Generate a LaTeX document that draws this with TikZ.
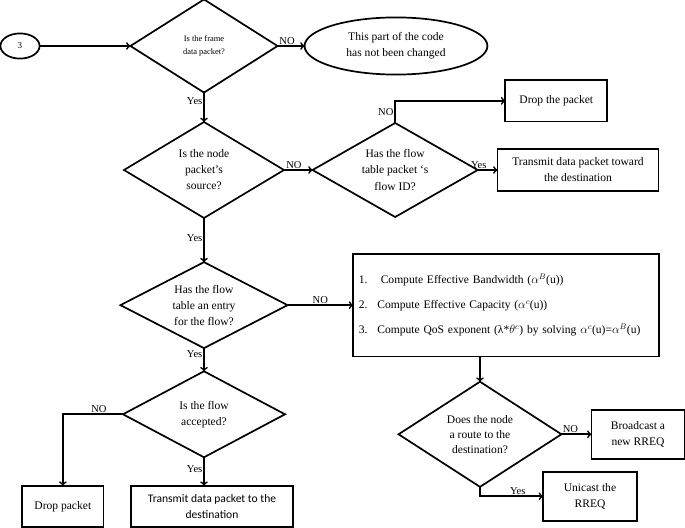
\documentclass[tikz,border=0pt]{standalone}
\usepackage{fontspec}
\setmainfont{Liberation Serif}
\newfontfamily\calibri{Carlito}
\usetikzlibrary{positioning,shapes.geometric}

\begin{document}
\begin{tikzpicture}
[every node/.style={inner sep=0mm,outer sep=0mm,font=\fontsize{11.5}{16}\selectfont},
 dec/.style={diamond,draw=black,shape aspect=1.75,align=center},
 act/.style={rectangle,draw=black,align=center},
 term/.style={ellipse,draw=black,align=center},
 lbl/.style={inner sep=0.6mm,font=\fontsize{10.5}{12}\selectfont},
 line width=1.7pt,>=to]
% keeps the page at the size of the reference
\useasboundingbox (-71.4mm,16.1mm) rectangle (168.35mm,-168.7mm);

\node[dec,minimum width=51.5mm,minimum height=32.6mm,font=\fontsize{8.4}{12.5}\selectfont] (frame) {Is the frame\\data packet?};
\node[term,minimum width=13.7mm,minimum height=8.8mm,font=\fontsize{9}{10}\selectfont] (start) [on grid,left=64.4mm of frame] {3};
\node[term,minimum width=64mm,minimum height=20mm] (unchanged) [on grid,right=67.2mm of frame] {This part of the code\\has not been changed};
\node[dec,minimum width=56mm,minimum height=33.6mm] (source) [on grid,below=43.4mm of frame] {Is the node\\packet’s\\source?};
\node[dec,minimum width=57.8mm,minimum height=32.9mm] (flowid) [on grid,right=66.9mm of source] {Has the flow\\table packet ‘s\\flow ID?};
\node[act,minimum width=35.7mm,minimum height=14.4mm] (dropA) [on grid,above right=24.2mm and 56.4mm of flowid] {Drop the packet};
\node[act,minimum width=56.4mm,minimum height=14.7mm] (txA) [on grid,right=64mm of flowid] {Transmit data packet toward\\the destination};
\node[dec,minimum width=58.5mm,minimum height=30.1mm] (entry) [on grid,below=47.3mm of source] {Has the flow\\table an entry\\for the flow?};
\node[act,minimum width=107mm,minimum height=36mm,text width=103mm,align=left,font=\fontsize{11.5}{25}\selectfont] (compute) [on grid,right=105.7mm of entry]
  {\makebox[1.9em][l]{1.}Compute Effective Bandwidth ($\alpha^{B}$(u))\\
   \makebox[1.6em][l]{2.}Compute Effective Capacity ($\alpha^{c}$(u))\\
   \makebox[1.6em][l]{3.}Compute QoS exponent (λ*$\theta^{c}$) by solving $\alpha^{c}$(u)=$\alpha^{B}$(u)};
\node[dec,minimum width=56.7mm,minimum height=30.1mm] (accept) [on grid,below=38.2mm of entry] {Is the flow\\accepted?};
\node[act,minimum width=28.4mm,minimum height=14.4mm] (dropB) [on grid,below left=32.2mm and 49.4mm of accept] {Drop packet};
\node[act,minimum width=56.7mm,minimum height=14.4mm,font=\calibri\fontsize{11.5}{16}\selectfont] (txB) [on grid,below right=32.2mm and 2.8mm of accept] {Transmit data packet to the\\destination};
\node[dec,minimum width=57mm,minimum height=36.8mm,font=\fontsize{11.5}{15}\selectfont] (route) [on grid,below left=45.2mm and 9.1mm of compute] {Does the node\\a route to the\\destination?};
\node[act,minimum width=32.6mm,minimum height=17.2mm] (bcast) [on grid,right=55.3mm of route] {Broadcast a\\new RREQ};
\node[act,minimum width=32.9mm,minimum height=17.2mm] (ucast) [on grid,below right=21.7mm and 38.5mm of route] {Unicast the\\RREQ};

\draw[->] (start) -- (frame);
\draw[->] (frame) -- node[lbl,above,pos=0.35] {NO} (unchanged);
\draw[->] (frame) -- node[lbl,left,pos=0.3] {Yes} (source);
\draw[->] (source) -- node[lbl,above,pos=0.35] {NO} (flowid);
\draw[->] (flowid.north) |- node[lbl,left,pos=0.25] {NO} (dropA.west);
\draw[->] (flowid.east) -- node[lbl,above,pos=0.05] {Yes} (txA.west |- flowid.east);
\draw[->] (source) -- node[lbl,left,pos=0.45] {Yes} (entry);
\draw[->] (entry) -- node[lbl,above] {NO} (compute);
\draw[->] (entry) -- node[lbl,left,pos=0.25] {Yes} (accept);
\draw[->] (accept.west) -| node[lbl,above,pos=0.2] {NO} (dropB.north);
\draw[->] (accept.south) -- node[lbl,left,pos=0.4] {Yes} (accept.south |- txB.north);
\draw[->] (compute.south -| route.north) -- (route.north);
\draw[->] (route) -- node[lbl,above,pos=0.3] {NO} (bcast);
\draw[->] (route.south) |- node[lbl,above,pos=0.8] {Yes} (ucast.west);
\end{tikzpicture}
\end{document}
